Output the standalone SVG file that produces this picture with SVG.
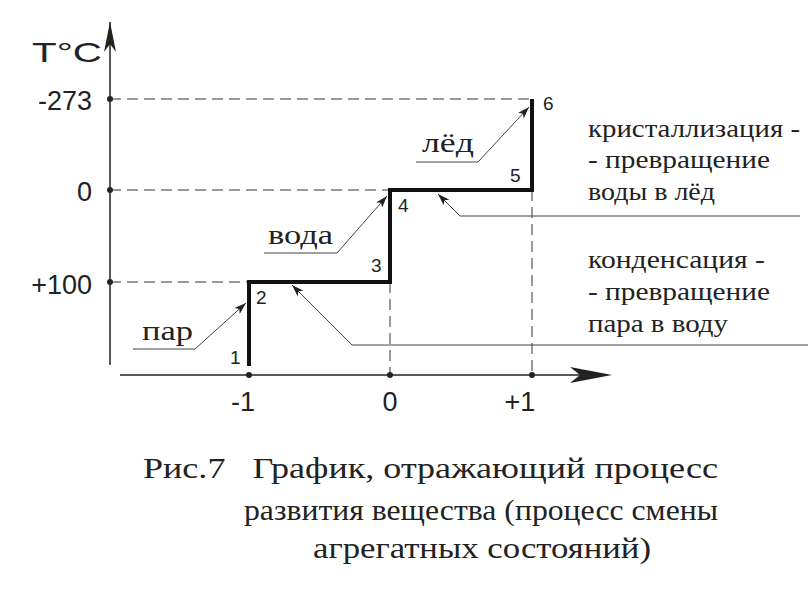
<svg xmlns="http://www.w3.org/2000/svg" width="812" height="590" viewBox="0 0 812 590">
<defs>
<style>
.s{font-family:"Liberation Sans",Arial,sans-serif;fill:#222}
.r{font-family:"Liberation Serif","Times New Roman",serif;fill:#222}
.ax{stroke:#222;stroke-width:1.5;fill:none}
.d{stroke:#333;stroke-width:1;stroke-dasharray:11,6;fill:none}
.l{stroke:#444;stroke-width:1;fill:none}
</style>
<marker id="a" viewBox="0 0 12 8" refX="12" refY="4" markerWidth="12" markerHeight="8" orient="auto" markerUnits="userSpaceOnUse"><path d="M0,0L12,4L0,8L3,4Z" fill="#222"/></marker>
</defs>
<rect width="812" height="590" fill="#fff"/>
<g id="axes">
<line class="ax" x1="110" y1="365" x2="110" y2="22"/>
<path d="M104,52L110,22L116,52L110,44Z" fill="#222"/>
<line class="ax" x1="120" y1="375" x2="600" y2="375"/>
<path d="M570,367L612,375L570,383L580,375Z" fill="#222"/>
<g fill="#222"><circle cx="110" cy="99" r="3"/><circle cx="110" cy="190" r="3"/><circle cx="110" cy="282" r="3"/><circle cx="249" cy="375" r="3"/><circle cx="390" cy="375" r="3"/><circle cx="532" cy="375" r="3"/></g>
<text class="s" x="32" y="62" font-size="28" textLength="70" lengthAdjust="spacingAndGlyphs">T°C</text>
<g class="s" font-size="27" text-anchor="end"><text x="92" y="110">-273</text><text x="92" y="201">0</text><text x="92" y="294">+100</text></g>
<g class="s" font-size="27" text-anchor="middle"><text x="243" y="411">-1</text><text x="390" y="411">0</text><text x="520" y="411">+1</text></g>
</g>
<g id="guides">
<line class="d" x1="110" y1="99" x2="532" y2="99"/>
<line class="d" x1="110" y1="190" x2="390" y2="190"/>
<line class="d" x1="110" y1="282" x2="249" y2="282"/>
<line class="d" x1="390" y1="282" x2="390" y2="375"/>
<line class="d" x1="532" y1="190" x2="532" y2="375"/>
</g>
<g id="staircase">
<path d="M249,366V282H390V190H532V99" fill="none" stroke="#111" stroke-width="4"/>
<g class="s" font-size="19"><text x="230" y="364">1</text><text x="256" y="304">2</text><text x="371" y="272">3</text><text x="398" y="212">4</text><text x="510" y="182">5</text><text x="543" y="110">6</text></g>
</g>
<g id="connectors">
<path class="l" d="M133,349H195L246,303" marker-end="url(#a)"/>
<path class="l" d="M264,253H337L387,196" marker-end="url(#a)"/>
<path class="l" d="M416,162H478L529,107" marker-end="url(#a)"/>
<path class="l" d="M808,345H352L292,285" marker-end="url(#a)"/>
<path class="l" d="M800,216H460L438,194" marker-end="url(#a)"/>
</g>
<g id="labels" class="r" font-size="28">
<text x="142" y="340" textLength="51" lengthAdjust="spacingAndGlyphs">пар</text>
<text x="268" y="244" textLength="65" lengthAdjust="spacingAndGlyphs">вода</text>
<text x="422" y="152" textLength="52" lengthAdjust="spacingAndGlyphs">лёд</text>
</g>
<g id="notes" class="r" font-size="26">
<text x="588" y="137" textLength="212" lengthAdjust="spacingAndGlyphs">кристаллизация -</text>
<text x="588" y="168" textLength="182" lengthAdjust="spacingAndGlyphs">- превращение</text>
<text x="588" y="200" textLength="127" lengthAdjust="spacingAndGlyphs">воды в лёд</text>
<text x="588" y="268" textLength="177" lengthAdjust="spacingAndGlyphs">конденсация -</text>
<text x="588" y="300" textLength="182" lengthAdjust="spacingAndGlyphs">- превращение</text>
<text x="588" y="332" textLength="140" lengthAdjust="spacingAndGlyphs">пара в воду</text>
</g>
<g id="caption" class="r" font-size="30">
<text x="143" y="478" textLength="575" lengthAdjust="spacingAndGlyphs" xml:space="preserve">Рис.7   График, отражающий процесс</text>
<text x="244" y="520" textLength="474" lengthAdjust="spacingAndGlyphs">развития вещества (процесс смены</text>
<text x="313" y="558" textLength="338" lengthAdjust="spacingAndGlyphs">агрегатных состояний)</text>
</g>
</svg>
